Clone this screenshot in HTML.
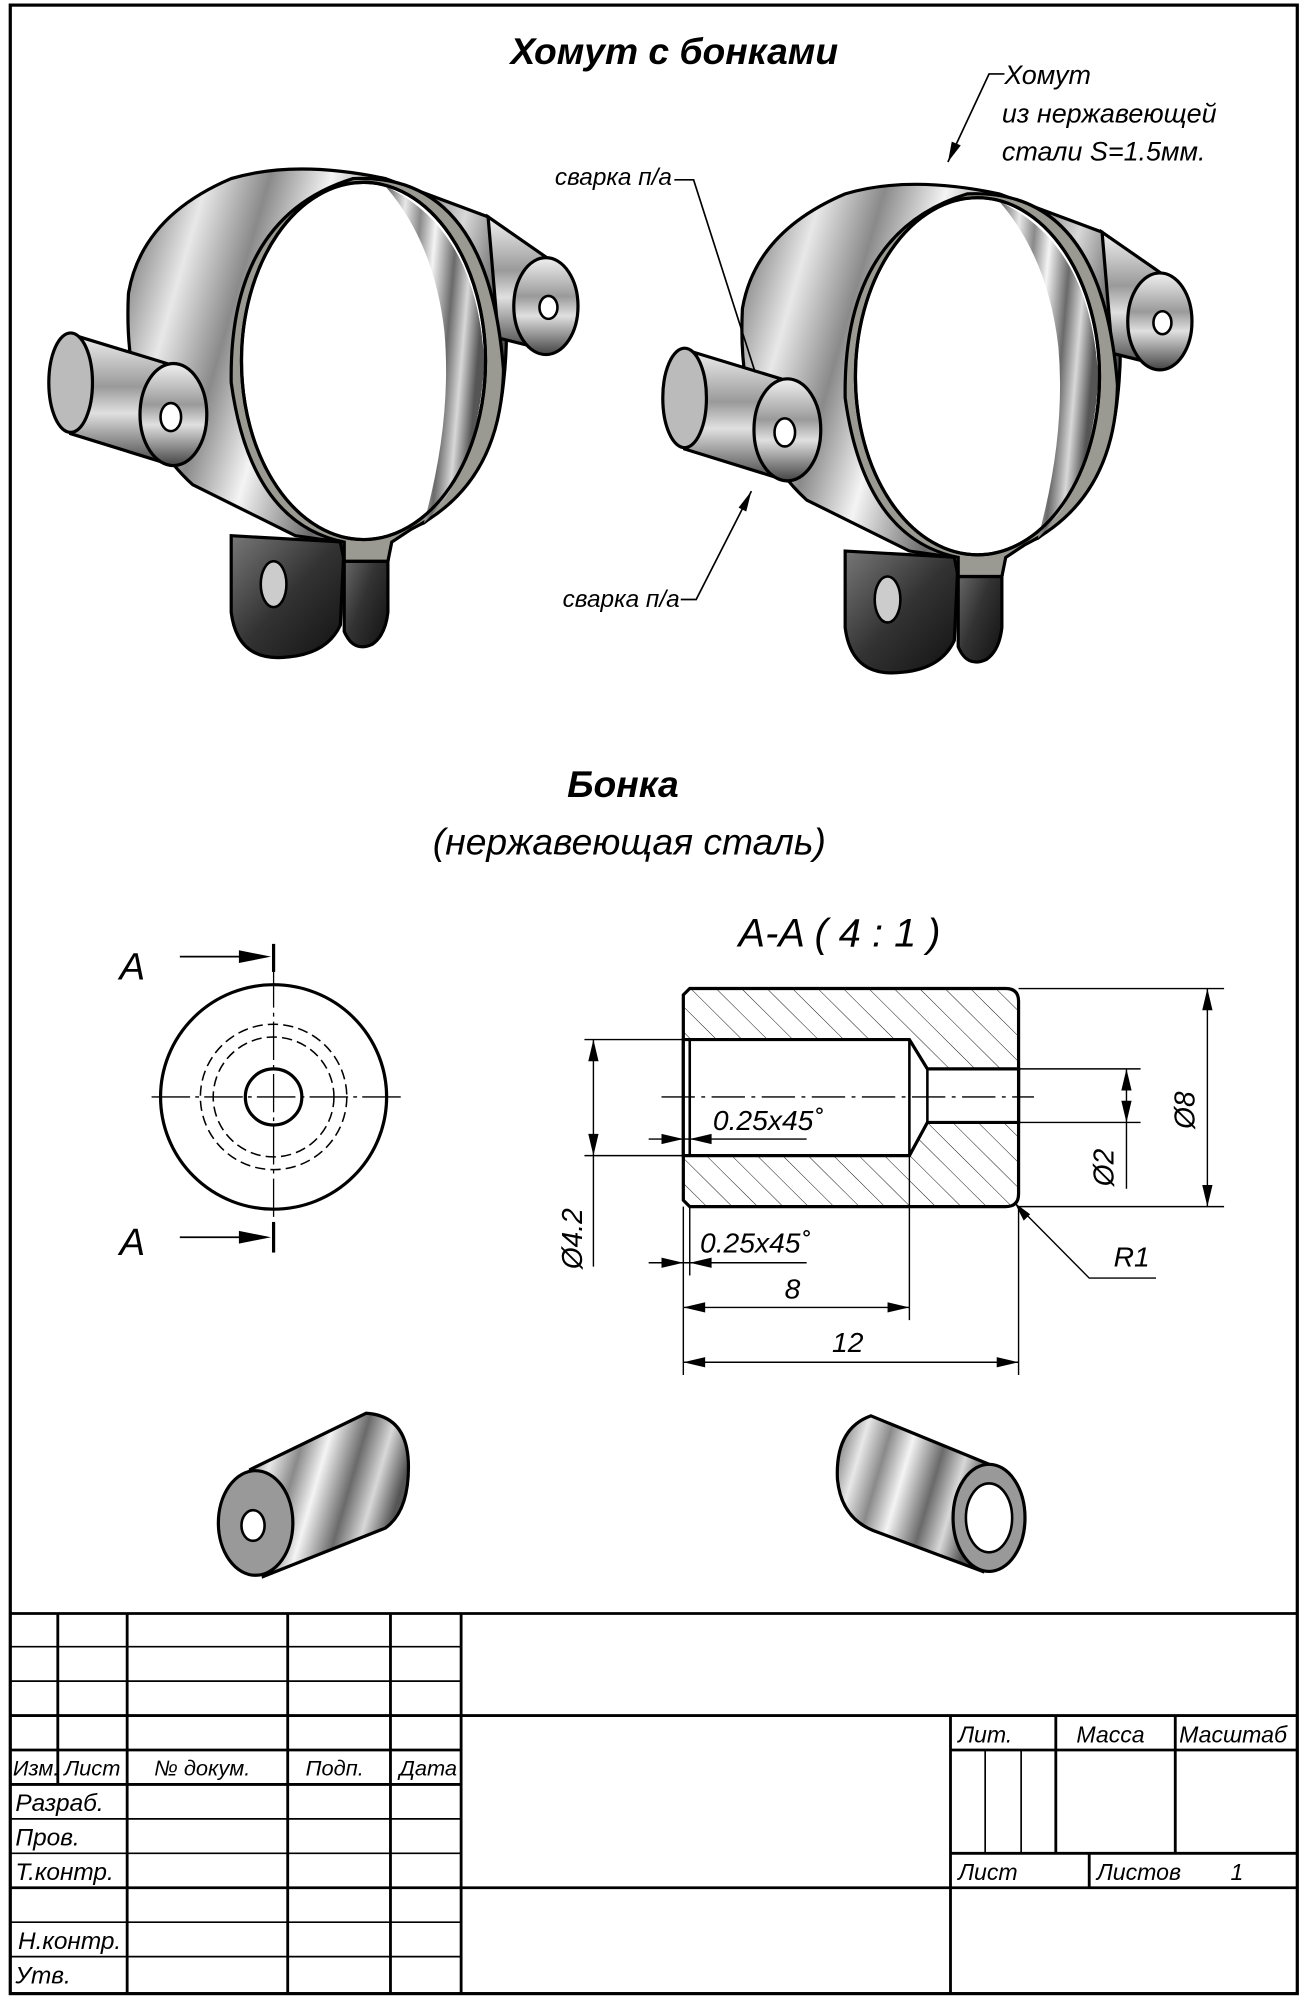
<!DOCTYPE html>
<html><head><meta charset="utf-8"><style>
html,body{margin:0;padding:0;background:#fff}
svg{display:block}
text{font-family:"Liberation Sans",sans-serif;font-style:italic;fill:#000}
</style></head><body>
<svg width="1305" height="2000" viewBox="0 0 1016 1568" preserveAspectRatio="none" xmlns="http://www.w3.org/2000/svg">
<defs>
<linearGradient id="met" x1="0" y1="0" x2="1" y2="0.3">
<stop offset="0" stop-color="#5a5a5a"/><stop offset="0.2" stop-color="#e8e8e8"/><stop offset="0.35" stop-color="#8a8a8a"/><stop offset="0.5" stop-color="#f4f4f4"/><stop offset="0.7" stop-color="#6a6a6a"/><stop offset="0.85" stop-color="#d8d8d8"/><stop offset="1" stop-color="#555"/>
</linearGradient>
<linearGradient id="met2" x1="0" y1="0" x2="0" y2="1">
<stop offset="0" stop-color="#f0f0f0"/><stop offset="0.4" stop-color="#9a9a9a"/><stop offset="0.6" stop-color="#e0e0e0"/><stop offset="1" stop-color="#444"/>
</linearGradient>
<linearGradient id="dark" x1="0" y1="0" x2="1" y2="1">
<stop offset="0" stop-color="#777"/><stop offset="0.5" stop-color="#333"/><stop offset="1" stop-color="#111"/>
</linearGradient>
<pattern id="hatch" width="14" height="14" patternUnits="userSpaceOnUse" patternTransform="rotate(-45)">
<line x1="0" y1="0" x2="0" y2="14" stroke="#000" stroke-width="0.7"/>
</pattern>
<g id="clamp">
<path d="M180,420 L180,480 Q185,520 225,515 Q255,512 265,490 L268,425 Z" fill="url(#dark)" stroke="#000" stroke-width="2.5"/>
<ellipse cx="213" cy="458" rx="10" ry="18" fill="#ccc" stroke="#000" stroke-width="2"/>
<path d="M268,425 L268,495 Q275,512 290,505 Q300,498 302,480 L302,420 Z" fill="url(#dark)" stroke="#000" stroke-width="2.5"/>
<path d="M100,230 Q110,170 180,140 Q230,125 300,140 L380,170 Q400,230 392,300 Q385,370 330,410 L305,420 L302,440 L268,440 L265,425 L230,420 L150,380 Q95,330 100,230 Z" fill="url(#met)" stroke="#000" stroke-width="2.5"/>
<path d="M55,262 L130,285 L135,365 L55,340 Z" fill="url(#met2)" stroke="#000" stroke-width="2.5"/>
<ellipse cx="55" cy="300" rx="17" ry="39" fill="#bbb" stroke="#000" stroke-width="2.5"/>
<ellipse cx="135" cy="325" rx="26" ry="40" fill="url(#met2)" stroke="#000" stroke-width="2.5"/>
<ellipse cx="133" cy="327" rx="8" ry="11" fill="#fff" stroke="#000" stroke-width="2"/>
<path d="M380,170 L430,205 L428,275 L388,265 Z" fill="url(#met2)" stroke="#000" stroke-width="2.5"/>
<ellipse cx="425" cy="240" rx="25" ry="38" fill="url(#met2)" stroke="#000" stroke-width="2.5"/>
<ellipse cx="427" cy="241" rx="7" ry="9" fill="#fff" stroke="#000" stroke-width="2"/>
<path d="M275,140 Q380,135 392,290 Q390,380 320,415 L305,425 L302,440 L268,440 L268,425 Q195,410 180,300 Q178,170 275,140 Z" fill="#9a9a92" stroke="#000" stroke-width="2.5"/>
<ellipse cx="283" cy="283" rx="95" ry="140" fill="#fff" stroke="#000" stroke-width="2.5"/>
<path d="M300,146 Q372,180 377,285 Q372,370 330,410 Q352,330 346,260 Q338,190 300,146 Z" fill="url(#met)"/>
<ellipse cx="283" cy="283" rx="95" ry="140" fill="none" stroke="#000" stroke-width="2.5"/>
</g>
</defs>

<rect x="8" y="4" width="1002" height="1559" fill="none" stroke="#000" stroke-width="2.5"/>

<text x="525" y="50" text-anchor="middle" font-size="29" font-weight="bold">Хомут с бонками</text>

<use href="#clamp"/>
<use href="#clamp" transform="translate(478,12)"/>

<text x="432" y="145" font-size="19">сварка п/а</text>
<polyline points="525,141 540,141 588,292" fill="none" stroke="#000" stroke-width="1.3"/>
<text x="438" y="476" font-size="19">сварка п/а</text>
<polyline points="530,470 542,470 585,385" fill="none" stroke="#000" stroke-width="1.3"/>
<polygon points="585,385 575,398 581,401" fill="#000"/>
<text x="782" y="66" font-size="21">Хомут</text>
<text x="780" y="96" font-size="21">из нержавеющей</text>
<text x="780" y="126" font-size="21">стали S=1.5мм.</text>
<polyline points="782,58 770,58 738,127" fill="none" stroke="#000" stroke-width="1.3"/>
<polygon points="738,127 741,111 748,114" fill="#000"/>

<text x="485" y="625" text-anchor="middle" font-size="29" font-weight="bold">Бонка</text>
<text x="490" y="670" text-anchor="middle" font-size="29">(нержавеющая сталь)</text>

<g fill="none" stroke="#000">
<circle cx="213" cy="860" r="88" stroke-width="2.5"/>
<circle cx="213" cy="860" r="57" stroke-width="1.2" stroke-dasharray="8,4"/>
<circle cx="213" cy="860" r="47" stroke-width="1.2" stroke-dasharray="8,4"/>
<circle cx="213" cy="860" r="22" stroke-width="2.5"/>
<line x1="118" y1="860" x2="312" y2="860" stroke-width="1" stroke-dasharray="30,4,3,4"/>
<line x1="213" y1="760" x2="213" y2="960" stroke-width="1" stroke-dasharray="30,4,3,4"/>
<line x1="213" y1="740" x2="213" y2="762" stroke-width="2.5"/>
<line x1="213" y1="958" x2="213" y2="982" stroke-width="2.5"/>
<line x1="140" y1="750" x2="200" y2="750" stroke-width="1.3"/>
<line x1="140" y1="970" x2="200" y2="970" stroke-width="1.3"/>
</g>
<polygon points="211,750 186,745 186,755" fill="#000"/>
<polygon points="211,970 186,965 186,975" fill="#000"/>
<text x="93" y="768" font-size="30">A</text>
<text x="93" y="984" font-size="30">A</text>

<text x="575" y="742" font-size="31">A-A  ( 4 : 1 )</text>
<path d="M537,775 L783,775 Q793,775 793,785 L793,936 Q793,946 783,946 L537,946 L532,941 L532,780 Z" fill="url(#hatch)" stroke="#000" stroke-width="2.5"/>
<path d="M532,815 L708,815 L722,838 L793,838 L793,880 L722,880 L708,906 L532,906 Z" fill="#fff" stroke="#000" stroke-width="2.5"/>
<line x1="537" y1="815" x2="537" y2="906" stroke="#000" stroke-width="2"/>
<line x1="708" y1="815" x2="708" y2="906" stroke="#000" stroke-width="2"/>
<line x1="722" y1="838" x2="722" y2="880" stroke="#000" stroke-width="2"/>
<line x1="515" y1="860" x2="805" y2="860" stroke="#000" stroke-width="1" stroke-dasharray="26,5,3,5"/>
<g stroke="#000" stroke-width="1.1" fill="none">
<line x1="455" y1="815" x2="532" y2="815"/><line x1="455" y1="906" x2="532" y2="906"/>
<line x1="462" y1="815" x2="462" y2="993"/>
<line x1="793" y1="838" x2="888" y2="838"/><line x1="793" y1="880" x2="888" y2="880"/>
<line x1="877" y1="838" x2="877" y2="932"/>
<line x1="793" y1="775" x2="953" y2="775"/><line x1="793" y1="946" x2="953" y2="946"/>
<line x1="940" y1="775" x2="940" y2="946"/>
<line x1="505" y1="893" x2="628" y2="893"/>
<line x1="505" y1="990" x2="628" y2="990"/>
<line x1="537" y1="946" x2="537" y2="1000"/>
<line x1="532" y1="946" x2="532" y2="1078"/>
<line x1="708" y1="906" x2="708" y2="1035"/>
<line x1="793" y1="946" x2="793" y2="1078"/>
<line x1="532" y1="1025" x2="708" y2="1025"/>
<line x1="532" y1="1068" x2="793" y2="1068"/>
<polyline points="790,943 848,1002 900,1002"/>
</g>
<g fill="#000">
<polygon points="462,815 458,832 466,832"/><polygon points="462,906 458,889 466,889"/>
<polygon points="877,838 873,855 881,855"/><polygon points="877,880 873,863 881,863"/>
<polygon points="940,775 936,792 944,792"/><polygon points="940,946 936,929 944,929"/>
<polygon points="532,893 515,889 515,897"/><polygon points="537,893 554,889 554,897"/>
<polygon points="532,990 515,986 515,994"/><polygon points="537,990 554,986 554,994"/>
<polygon points="532,1025 549,1021 549,1029"/><polygon points="708,1025 691,1021 691,1029"/>
<polygon points="532,1068 549,1064 549,1072"/><polygon points="793,1068 776,1064 776,1072"/>
<polygon points="790,943 797,957 802,952"/>
</g>
<text x="555" y="886" font-size="22">0.25x45˚</text>
<text x="545" y="982" font-size="22">0.25x45˚</text>
<text x="617" y="1018" text-anchor="middle" font-size="22">8</text>
<text x="660" y="1060" text-anchor="middle" font-size="22">12</text>
<text x="867" y="993" font-size="22">R1</text>
<text transform="translate(453,995) rotate(-90)" font-size="22">Ø4.2</text>
<text transform="translate(867,930) rotate(-90)" font-size="22">Ø2</text>
<text transform="translate(930,885) rotate(-90)" font-size="22">Ø8</text>

<!-- bushings -->
<path d="M195,1152 L285,1108 Q318,1110 318,1150 Q318,1185 300,1198 L205,1236 Z" fill="url(#met)" stroke="#000" stroke-width="2.5"/>
<ellipse cx="199" cy="1194" rx="29" ry="41" fill="#999" stroke="#000" stroke-width="2.5"/>
<ellipse cx="197" cy="1196" rx="9" ry="12" fill="#fff" stroke="#000" stroke-width="2"/>
<path d="M770,1148 L678,1110 Q650,1120 652,1160 Q655,1190 680,1200 L765,1232 Z" fill="url(#met)" stroke="#000" stroke-width="2.5"/>
<ellipse cx="770" cy="1190" rx="28" ry="42" fill="#999" stroke="#000" stroke-width="2.5"/>
<ellipse cx="770" cy="1190" rx="18" ry="27" fill="#fff" stroke="#000" stroke-width="2"/>

<g stroke="#000" stroke-width="2.2" fill="none">
<line x1="8" y1="1265" x2="1010" y2="1265"/>
<line x1="8" y1="1291" x2="359" y2="1291" stroke-width="1.3"/>
<line x1="8" y1="1318" x2="359" y2="1318" stroke-width="1.3"/>
<line x1="8" y1="1345" x2="1010" y2="1345"/>
<line x1="8" y1="1372" x2="359" y2="1372"/>
<line x1="8" y1="1399" x2="359" y2="1399"/>
<line x1="8" y1="1426" x2="359" y2="1426" stroke-width="1.3"/>
<line x1="8" y1="1453" x2="359" y2="1453" stroke-width="1.3"/>
<line x1="8" y1="1480" x2="1010" y2="1480"/>
<line x1="8" y1="1507" x2="359" y2="1507" stroke-width="1.3"/>
<line x1="8" y1="1534" x2="359" y2="1534" stroke-width="1.3"/>
<line x1="45" y1="1265" x2="45" y2="1399"/>
<line x1="99" y1="1265" x2="99" y2="1563"/>
<line x1="224" y1="1265" x2="224" y2="1563"/>
<line x1="304" y1="1265" x2="304" y2="1563"/>
<line x1="359" y1="1265" x2="359" y2="1563"/>
<line x1="740" y1="1345" x2="740" y2="1563"/>
<line x1="740" y1="1372" x2="1010" y2="1372"/>
<line x1="740" y1="1453" x2="1010" y2="1453"/>
<line x1="822" y1="1345" x2="822" y2="1453"/>
<line x1="915" y1="1345" x2="915" y2="1453"/>
<line x1="767" y1="1372" x2="767" y2="1453" stroke-width="1.3"/>
<line x1="795" y1="1372" x2="795" y2="1453" stroke-width="1.3"/>
<line x1="848" y1="1453" x2="848" y2="1480"/>
</g>
<g font-size="17">
<text x="10" y="1392">Изм.</text>
<text x="50" y="1392">Лист</text>
<text x="120" y="1392">№ докум.</text>
<text x="238" y="1392">Подп.</text>
<text x="311" y="1392">Дата</text>
<text x="12" y="1420" font-size="19">Разраб.</text>
<text x="12" y="1447" font-size="19">Пров.</text>
<text x="12" y="1474" font-size="19">Т.контр.</text>
<text x="14" y="1528" font-size="19">Н.контр.</text>
<text x="12" y="1555" font-size="19">Утв.</text>
<text x="746" y="1366" font-size="18">Лит.</text>
<text x="838" y="1366" font-size="18">Масса</text>
<text x="918" y="1366" font-size="18">Масштаб</text>
<text x="746" y="1474" font-size="18">Лист</text>
<text x="854" y="1474" font-size="18">Листов</text>
<text x="958" y="1474" font-size="18">1</text>
</g>
</svg>
</body></html>
